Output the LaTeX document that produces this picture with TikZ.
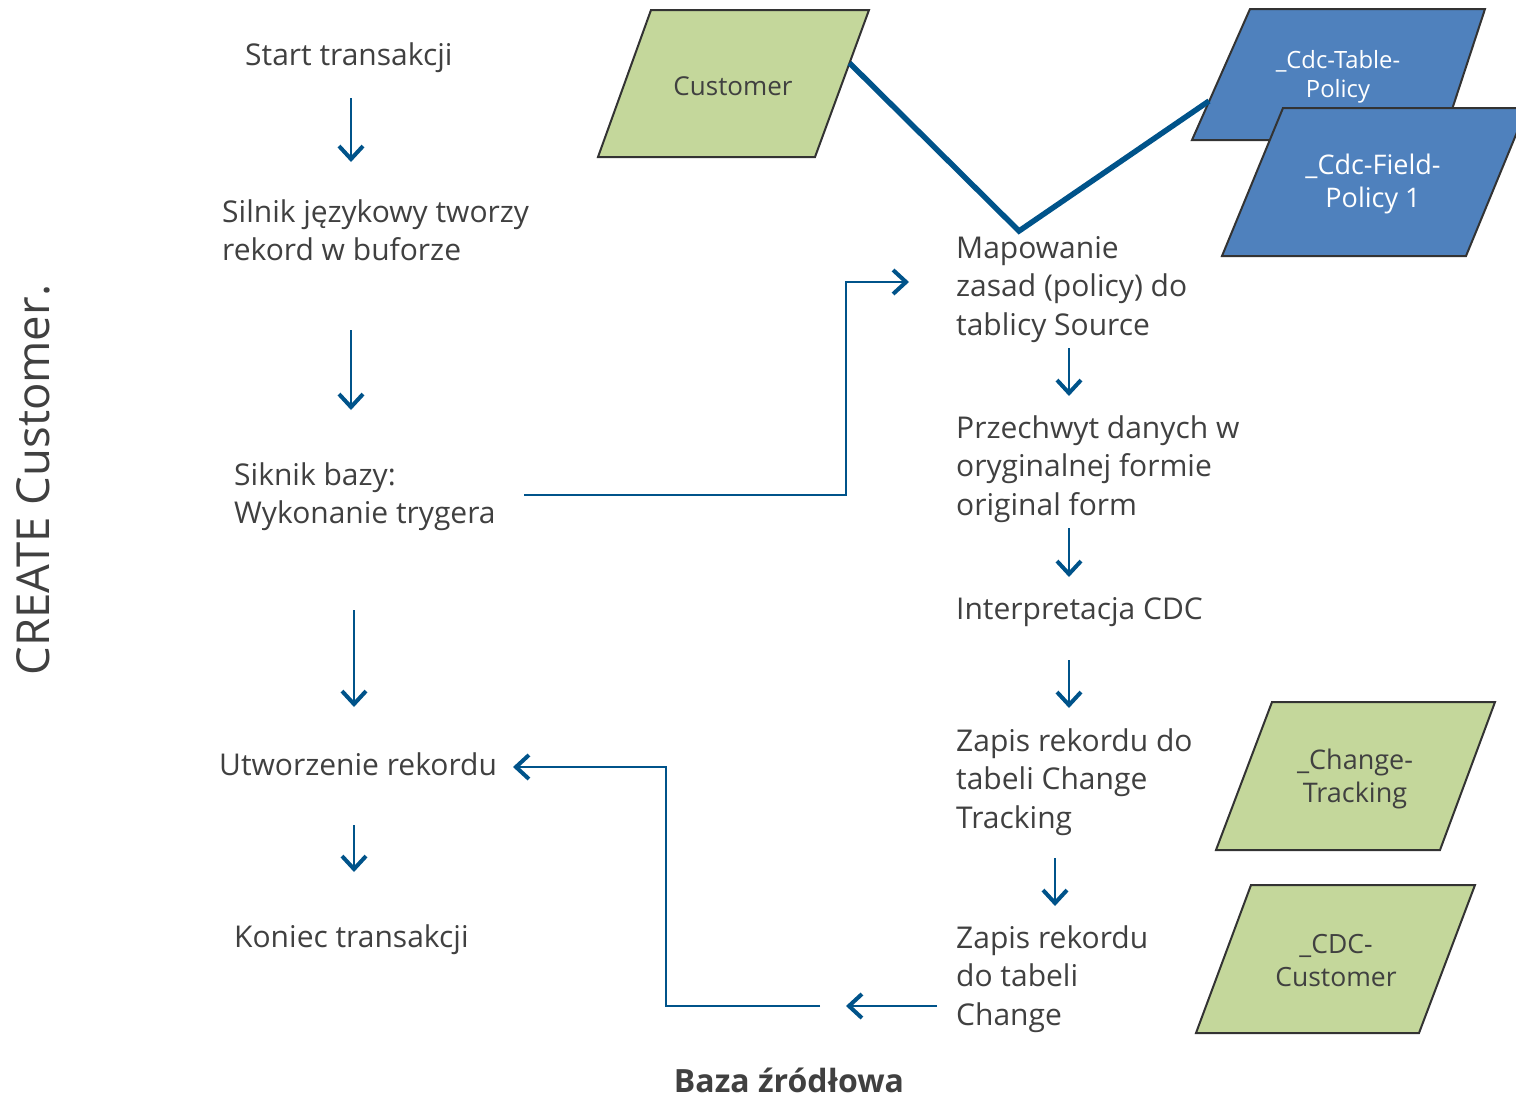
\documentclass[tikz,border=0pt]{standalone}
\usepackage{fontspec}
\setmainfont{Open Sans}
\usetikzlibrary{arrows.meta}
\definecolor{txt}{RGB}{64,64,64}
\definecolor{arrblue}{RGB}{0,83,138}
\definecolor{boxgreen}{RGB}{196,215,155}
\definecolor{boxblue}{RGB}{79,129,189}
\definecolor{edgegray}{RGB}{51,51,51}
\begin{document}
\begin{tikzpicture}[x=1pt,y=-1pt,
  lbl/.style={anchor=north west, inner sep=0pt, align=left, text=txt,
    font=\fontsize{30}{38.5}\selectfont},
  boxtxt/.style={anchor=center, inner sep=0pt, align=center, text=txt,
    font=\fontsize{26}{33}\selectfont},
  greenbox/.style={fill=boxgreen, draw=edgegray, line width=2pt, line join=miter},
  bluebox/.style={fill=boxblue, draw=edgegray, line width=2pt, line join=miter},
  arr/.style={draw=arrblue, line width=1.8pt,
    -{Straight Barb[length=13pt, width=24pt, line width=4pt]}},
  link/.style={draw=arrblue, line width=5.5pt, line join=miter}
]
\useasboundingbox (0,0) rectangle (1516,1100);
\clip (0,0) rectangle (1516,1100);

% ---------- data shapes ----------
\draw[greenbox] (651,10) -- (869,10) -- (815,157) -- (598,157) -- cycle;
\node[boxtxt] (customer) at (733,86) {Customer};

\draw[bluebox] (1250,9) -- (1485,9) -- (1442,140) -- (1192,140) -- cycle;
\node[boxtxt, text=white, font=\fontsize{23.8}{29}\selectfont] (tablepolicy) at (1338,77) {\_Cdc-Table-\\Policy};

\draw[bluebox] (1283,108) -- (1527,108) -- (1466,256) -- (1222,256) -- cycle;
\node[boxtxt, text=white, font=\fontsize{27}{33}\selectfont] (fieldpolicy) at (1373,184) {\_Cdc-Field-\\Policy 1};

\draw[greenbox] (1272,702) -- (1495,702) -- (1440,850) -- (1216,850) -- cycle;
\node[boxtxt, font=\fontsize{27}{33}\selectfont] (changetracking) at (1355,779) {\_Change-\\Tracking};

\draw[greenbox] (1251,885) -- (1475,885) -- (1419,1033) -- (1196,1033) -- cycle;
\node[boxtxt, font=\fontsize{26.5}{33}\selectfont] (cdccustomer) at (1336,961) {\_CDC-\\Customer};

% ---------- left column ----------
\node[lbl] (start) at (245,38) {\strut Start transakcji};
\node[lbl] (silnik) at (222,195) {\strut Silnik językowy tworzy\\rekord w buforze};
\node[lbl] (siknik) at (234,458) {\strut Siknik bazy:\\Wykonanie trygera};
\node[lbl] (utworzenie) at (219,748) {\strut Utworzenie rekordu};
\node[lbl] (koniec) at (234,920) {\strut Koniec transakcji};

% ---------- right column ----------
\node[lbl] (mapowanie) at (956,231) {\strut Mapowanie\\zasad (policy) do\\tablicy Source};
\node[lbl] (przechwyt) at (956,411) {\strut Przechwyt danych w\\oryginalnej formie\\original form};
\node[lbl] (interpretacja) at (956,592) {\strut Interpretacja CDC};
\node[lbl] (zapisct) at (956,724) {\strut Zapis rekordu do\\tabeli Change\\Tracking};
\node[lbl] (zapisc) at (956,921) {\strut Zapis rekordu\\do tabeli\\Change};

% ---------- titles ----------
\node[rotate=90, inner sep=0pt, text=txt, font=\fontsize{45.5}{50}\selectfont] (title) at (33,480) {CREATE Customer.};
\node[inner sep=0pt, text=txt, font=\fontsize{32}{38}\bfseries\selectfont] (baza) at (789,1080) {Baza źródłowa};

% ---------- connector end points ----------
\coordinate (a1s) at (351,98);   \coordinate (a1e) at (351,162);
\coordinate (a2s) at (351,330);  \coordinate (a2e) at (351,410);
\coordinate (a3s) at (354,610);  \coordinate (a3e) at (354,707);
\coordinate (a4s) at (354,825);  \coordinate (a4e) at (354,872);
\coordinate (b1s) at (1069,348); \coordinate (b1e) at (1069,396);
\coordinate (b2s) at (1069,528); \coordinate (b2e) at (1069,577);
\coordinate (b3s) at (1069,660); \coordinate (b3e) at (1069,708);
\coordinate (b4s) at (1055,858); \coordinate (b4e) at (1055,906);
\coordinate (trigout) at (524,495);
\coordinate (mapin) at (909,282);
\coordinate (chgout) at (937,1006);
\coordinate (midhead) at (846,1006);
\coordinate (midtail) at (820,1006);
\coordinate (recin) at (513,767);
\coordinate (custpt) at (849.5,63);
\coordinate (vpt) at (1019,231);
\coordinate (tabpt) at (1209,101);

% ---------- connectors ----------
\draw[arr] (a1s) -- (a1e);
\draw[arr] (a2s) -- (a2e);
\draw[arr] (a3s) -- (a3e);
\draw[arr] (a4s) -- (a4e);
\draw[arr] (b1s) -- (b1e);
\draw[arr] (b2s) -- (b2e);
\draw[arr] (b3s) -- (b3e);
\draw[arr] (b4s) -- (b4e);
\draw[arr] (trigout) -- (846,495) -- (846,282) -- (mapin);
\draw[arr] (chgout) -- (midhead);
\draw[arr] (midtail) -- (666,1006) -- (666,767) -- (recin);
\draw[link] (custpt) -- (vpt) -- (tabpt);
\end{tikzpicture}
\end{document}
